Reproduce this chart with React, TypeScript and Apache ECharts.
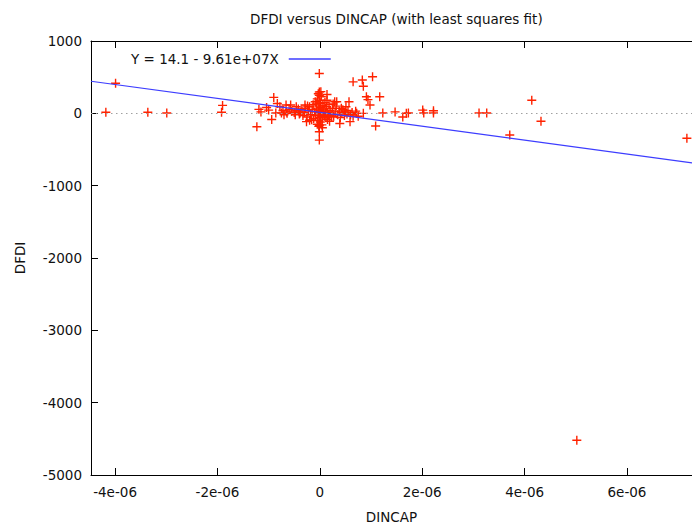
import React, { useEffect, useRef } from "react";
import * as echarts from "echarts";

// DINCAP values in units of 1e-06
const dincapMicro: number[] = [
  -4.18, -3.99, -3.36, -2.99, -1.90, -1.92,
  -1.23, -1.19, -1.15, -1.04, -1.00, -0.94, -0.90, -0.83, -0.78, -0.86, -0.75,
  -0.66, -0.57, -0.64, -0.46, -0.39, -0.29, -0.26, -0.20,
  -0.01, -0.01, -0.01, -0.01, -0.01, -0.01,
  0.14, 0.29, 0.15, 0.23, 0.33, 0.39, 0.42, 0.57, 0.51, 0.59,
  0.65, 0.83, 0.85, 1.03, 0.91, 0.94, 0.98, 1.17, 1.09, 0.85, 0.72, 0.75,
  1.23, 1.47, 1.62, 1.69, 1.73, 2.01, 2.03, 2.22, 2.22,
  3.11, 3.26, 4.14, 4.32, 3.71, 7.17, 5.02,
  -0.55, -0.5, -0.48, -0.45, -0.42, -0.4, -0.38, -0.35, -0.33, -0.3, -0.28, -0.25,
  -0.22, -0.2, -0.18, -0.15, -0.13, -0.12, -0.1, -0.09, -0.08, -0.06, -0.05, -0.04,
  -0.03, -0.02, -0.01, 0, 0, 0, 0.01, 0.01, 0.02, 0.02, 0.03, 0.04, 0.05, 0.06,
  0.07, 0.08, 0.09, 0.1, 0.11, 0.12, 0.13, 0.15, 0.17, 0.18, 0.2, 0.22, 0.25,
  0.27, 0.3, 0.32, 0.35, 0.38, 0.4, 0.43, 0.45, 0.48, 0.5, 0.53, 0.55, 0.6,
  0.63, 0.65, 0.7, -0.05, 0.05, -0.02, 0.02, -0.03, 0.04, -0.07, 0.14, -0.16,
  0.19, -0.24, 0.26, -0.6, -0.65, -0.7, -0.72,
];

const dfdi: number[] = [
  15, 415, 15, 5, 110, 15,
  -185, 55, 20, 80, 45, -85, 220, 135, 90, 5, 5,
  115, 115, 0, 90, 0, 115, -115, -95,
  550, 295, 250, -255, -370, -165,
  260, 160, -85, -50, 160, -140, 70, 160, 90, -115,
  435, 460, 375, 505, 230, 190, 115, 230, -175, 0, 0, -40,
  5, 20, -50, 0, 5, 45, 5, 35, 5,
  5, 5, 180, -110, -300, -345, -4520,
  30, 10, -20, 40, 60, -10, 20, 50, -30, 10, 70, -50,
  30, 90, -20, 50, 120, -70, 20, 160, -30, 60, 200, -100,
  10, 100, -60, 40, 180, -30, 140, -120, 80, -10, 230, 30, -80, 110,
  0, 60, -40, 150, 20, -60, 90, 10, -30, 120, 40, -10, 70,
  -40, 20, 100, -20, 30, -60, 10, 50, -30, 20, -10, 40, -20,
  10, -40, 30, -150, -200, -180, 300, 270, -160, 130, 180, -90,
  -110, 100, 130, 50, 20, -20, 40,
];

const xTicks: number[] = [-4e-6, -2e-6, 0, 2e-6, 4e-6, 6e-6];

const fitIntercept = 14.1;
const fitSlope = -9.61e7;
const xMin = -4.47e-6;
const xMax = 7.27e-6;

const FONT = "DejaVu Sans";
const FS = 13.5;
const plusPath = "path://M3.8,0H5.2V3.8H9V5.2H5.2V9H3.8V5.2H0V3.8H3.8Z";

export default function App() {
  const ref = useRef<HTMLDivElement>(null);

  useEffect(() => {
    if (!ref.current) return;
    const chart = echarts.init(ref.current, null, { renderer: "svg" });
    const points = dincapMicro.map((x, i) => [x * 1e-6, dfdi[i]]);
    const fitLine = [
      [xMin, fitIntercept + fitSlope * xMin],
      [xMax, fitIntercept + fitSlope * xMax],
    ];
    const fmtX = (v: number) => {
      const m = Math.round(v * 1e6);
      return m === 0 ? "0" : `${m}e-06`;
    };
    const legendName = "Y = 14.1 - 9.61e+07X";
    chart.setOption({
      animation: false,
      backgroundColor: "#fff",
      textStyle: { fontFamily: FONT },
      title: {
        text: "DFDI versus DINCAP (with least squares fit)",
        left: 245,
        top: 7,
        textStyle: { fontFamily: FONT, fontSize: FS, fontWeight: "normal", color: "#111" },
      },
      legend: {
        data: [{ name: legendName, icon: "rect" }],
        left: 126,
        top: 47,
        align: "right",
        itemWidth: 42,
        itemHeight: 1.5,
        textStyle: { fontFamily: FONT, fontSize: FS, color: "#111", padding: [0, 5, 0, 0] },
      },
      grid: { left: 91, right: 0, top: 41, bottom: 53, show: false },
      xAxis: [
        {
          type: "value",
          position: "bottom",
          min: xMin,
          max: xMax,
          name: "DINCAP",
          nameLocation: "middle",
          nameGap: 35,
          nameTextStyle: { fontFamily: FONT, fontSize: FS, color: "#111" },
          axisLine: { show: true, onZero: false, lineStyle: { color: "#000", width: 1 } },
          axisTick: { show: true, inside: true, length: 7, customValues: xTicks, lineStyle: { color: "#000" } },
          axisLabel: { customValues: xTicks, formatter: fmtX, fontFamily: FONT, fontSize: FS, color: "#111", margin: 10 },
          splitLine: { show: false },
        },
        {
          type: "value",
          position: "top",
          min: xMin,
          max: xMax,
          axisLine: { show: true, onZero: false, lineStyle: { color: "#000", width: 1 } },
          axisTick: { show: true, inside: true, length: 7, customValues: xTicks, lineStyle: { color: "#000" } },
          axisLabel: { show: false },
          splitLine: { show: false },
        },
      ],
      yAxis: {
        type: "value",
        min: -5000,
        max: 1000,
        interval: 1000,
        name: "DFDI",
        nameLocation: "middle",
        nameGap: 64,
        nameTextStyle: { fontFamily: FONT, fontSize: FS, color: "#111" },
        axisLine: { show: true, onZero: false, lineStyle: { color: "#000", width: 1 } },
        axisTick: { show: true, inside: true, length: 7, lineStyle: { color: "#000" } },
        axisLabel: { fontFamily: FONT, fontSize: FS, color: "#111", margin: 9, formatter: (v: number) => String(v) },
        splitLine: { show: false },
      },
      series: [
        {
          type: "scatter",
          name: "data",
          xAxisIndex: 0,
          data: points,
          symbol: plusPath,
          symbolSize: 9,
          itemStyle: { color: "#ff2200", opacity: 1 },
          markLine: {
            silent: true,
            symbol: "none",
            label: { show: false },
            lineStyle: { color: "#a0a0a0", type: [1.5, 3.5], width: 1 },
            data: [{ yAxis: 0 }],
          },
          z: 3,
        },
        {
          type: "line",
          name: legendName,
          xAxisIndex: 0,
          data: fitLine,
          symbol: "none",
          lineStyle: { color: "#3d3dff", width: 1.2 },
          itemStyle: { color: "#3d3dff" },
          z: 4,
        },
      ],
    });
    return () => chart.dispose();
  }, []);

  return (
    <div style={{ position: "fixed", left: 0, top: 0, width: 692, height: 529 }}>
      <div ref={ref} style={{ width: 692, height: 529 }} />
    </div>
  );
}
